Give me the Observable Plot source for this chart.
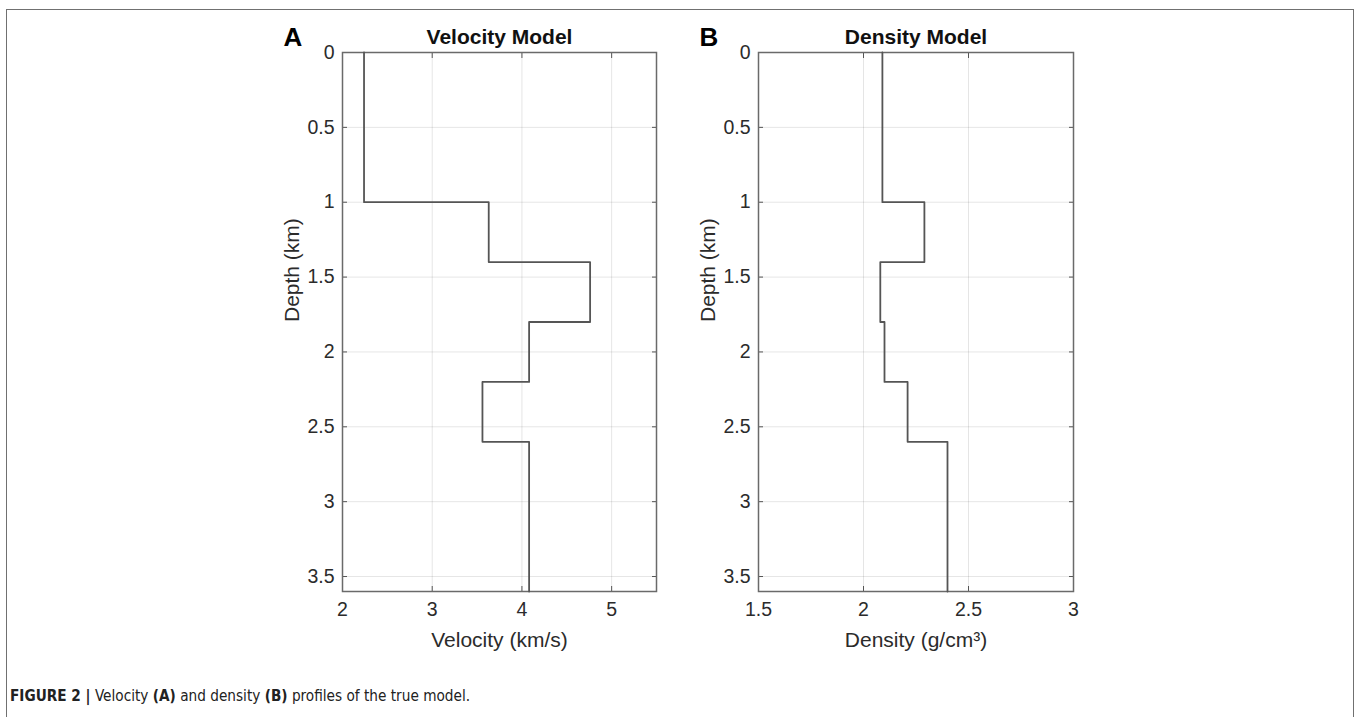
<!DOCTYPE html>
<html>
<head>
<meta charset="utf-8">
<script src="https://cdn.jsdelivr.net/npm/d3@7"></script>
<script src="https://cdn.jsdelivr.net/npm/@observablehq/plot@0.6"></script>
<style>
  html, body { margin: 0; padding: 0; background: #fff; }
  #page { position: relative; width: 1356px; height: 717px; overflow: hidden; background: #fff; }
  #box { position: absolute; left: 6px; top: 9px; width: 1346px; height: 800px; border: 1.5px solid #707070; border-bottom: none; }
  .panel { position: absolute; top: 0; }
  #caption { position: absolute; left: 10px; top: 687px; font-family: "Liberation Sans Narrow", "DejaVu Sans Condensed", "Liberation Sans", sans-serif; font-stretch: condensed; font-size: 15.2px; color: #222; white-space: nowrap; }
  #caption b { font-weight: bold; }
</style>
</head>
<body>
<div id="page">
  <div id="box"></div>
  <div id="left" class="panel" style="left:0px"></div>
  <div id="right" class="panel" style="left:690px"></div>
  <div id="caption"><b>FIGURE 2 |</b> Velocity <b>(A)</b> and density <b>(B)</b> profiles of the true model.</div>
</div>
<script>
// ---- data ----
const depthTop = [0, 1, 1.4, 1.8, 2.2, 2.6];
const depthBottom = [1, 1.4, 1.8, 2.2, 2.6, 3.6];
const velocity = [2.24, 3.63, 4.76, 4.08, 3.56, 4.08];
const density = [2.09, 2.29, 2.08, 2.10, 2.21, 2.40];
const depthTicks = [0, 0.5, 1, 1.5, 2, 2.5, 3, 3.5];
const velocityTicks = [2, 3, 4, 5];
const densityTicks = [1.5, 2, 2.5, 3];
const velocityDomain = [2, 5.5];
const densityDomain = [1.5, 3];
const depthDomain = [0, 3.6];

function stepPoints(values) {
  return depthTop.flatMap((t, i) => [
    {v: values[i], d: t},
    {v: values[i], d: depthBottom[i]}
  ]);
}

const FONT = "'Liberation Sans', Arial, Helvetica, sans-serif";
const TXT = "#2b2b2b";
const fmt = d => String(d);

function panel({values, domain, xTicks, xLabel, title, letter, width, marginLeft, marginRight}) {
  return Plot.plot({
    width,
    height: 717,
    marginLeft,
    marginRight,
    marginTop: 52,
    marginBottom: 126,
    style: {fontFamily: FONT, fontSize: "19px", background: "transparent", color: TXT},
    x: {domain, axis: null},
    y: {domain: depthDomain, reverse: true, axis: null},
    marks: [
      Plot.gridX(xTicks.filter(t => t > domain[0] && t < domain[1]), {stroke: "#000", strokeOpacity: 0.1, strokeWidth: 1}),
      Plot.gridY(depthTicks.filter(t => t > 0), {stroke: "#000", strokeOpacity: 0.1, strokeWidth: 1}),
      Plot.axisX(xTicks, {anchor: "bottom", tickSize: 0, tickPadding: 11, tickFormat: fmt, color: TXT, fontSize: 19.5, label: null}),
      Plot.axisX(xTicks, {anchor: "bottom", tickSize: -5, tickFormat: () => "", color: "#555", label: null}),
      Plot.axisX(xTicks, {anchor: "top", tickSize: -5, tickFormat: () => "", color: "#555", label: null}),
      Plot.axisY(depthTicks, {anchor: "left", tickSize: 0, tickPadding: 8, tickFormat: fmt, color: TXT, fontSize: 19.5, label: null}),
      Plot.axisY(depthTicks, {anchor: "left", tickSize: -5, tickFormat: () => "", color: "#555", label: null}),
      Plot.axisY(depthTicks, {anchor: "right", tickSize: -5, tickFormat: () => "", color: "#555", label: null}),
      Plot.frame({stroke: "#6a6a6a", strokeWidth: 1.5}),
      Plot.line(stepPoints(values), {x: "v", y: "d", stroke: "#555", strokeWidth: 1.8}),
      Plot.text([xLabel], {frameAnchor: "bottom", dy: 49, lineAnchor: "middle", fontSize: 21, fill: TXT}),
      Plot.text(["Depth (km)"], {frameAnchor: "left", dx: -50, rotate: -90, lineAnchor: "middle", fontSize: 21, fill: TXT}),
      Plot.text([title], {frameAnchor: "top", dy: -15, lineAnchor: "middle", fontSize: 21, fontWeight: "bold", fill: "#111"}),
      Plot.text([letter], {frameAnchor: "top-left", dx: -59, dy: -15, lineAnchor: "middle", textAnchor: "start", fontSize: 26, fontWeight: "bold", fill: "#000"})
    ]
  });
}

document.getElementById("left").append(panel({
  values: velocity, domain: velocityDomain, xTicks: velocityTicks,
  xLabel: "Velocity (km/s)", title: "Velocity Model", letter: "A",
  width: 690, marginLeft: 342, marginRight: 34
}));

document.getElementById("right").append(panel({
  values: density, domain: densityDomain, xTicks: densityTicks,
  xLabel: "Density (g/cm³)", title: "Density Model", letter: "B",
  width: 666, marginLeft: 68, marginRight: 283
}));
</script>
</body>
</html>
